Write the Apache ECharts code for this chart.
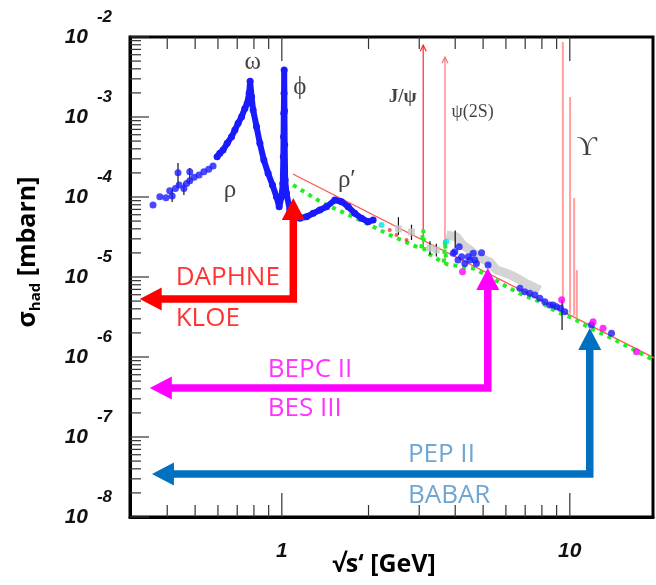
<!DOCTYPE html>
<html><head><meta charset="utf-8">
<script src="https://cdn.jsdelivr.net/npm/echarts@6/dist/echarts.min.js"></script>
<style>html,body{margin:0;padding:0;background:#fff}#c{width:656px;height:585px}</style>
</head><body><div id="c"></div>
<script>
// ---- axis ranges / ticks ----
const X_MIN = 0.297, X_MAX = 19.45, Y_MIN = 1e-8, Y_MAX = 1e-2;
const xMajorTicks = [1, 10];
const xMinorTicks = [0.4, 0.5, 0.6, 0.7, 0.8, 0.9, 2, 3, 4, 5, 6, 7, 8, 9];
const yMajorTicks = [1e-8, 1e-7, 1e-6, 1e-5, 1e-4, 1e-3, 1e-2];
const yMinorTicks = [];
[-8, -7, -6, -5, -4, -3].forEach(d => { [2,3,4,5,6,7,8,9].forEach(m => yMinorTicks.push(m * Math.pow(10, d))); });

// ---- data (sqrt(s) [GeV], sigma_had [mbarn]) ----
const blueLow = [[0.357,7.94e-5],[0.377,1.01e-4],[0.396,9.8e-5],[0.408,1.2e-4],[0.416,1.03e-4],[0.427,1.28e-4],[0.436,2.01e-4],[0.440,1.41e-4],[0.457,1.28e-4],[0.467,1.48e-4],[0.479,2.07e-4],[0.479,1.6e-4],[0.496,1.76e-4],[0.516,1.88e-4],[0.536,2.07e-4],[0.557,2.22e-4],[0.577,2.44e-4]];
const blueDense = [[0.596,3.19e-4],[0.609,3.52e-4],[0.625,3.87e-4],[0.646,4.69e-4],[0.669,5.67e-4],[0.687,6.88e-4],[0.705,8.34e-4],[0.725,1.01e-3],[0.744,1.28e-3],[0.758,1.48e-3],[0.770,1.98e-3],[0.776,2.8e-3],[0.785,1.79e-3],[0.795,1.22e-3],[0.817,7.56e-4],[0.839,4.69e-4],[0.866,2.9e-4],[0.896,1.98e-4],[0.928,1.41e-4],[0.958,1.01e-4],[0.979,7.56e-5],[0.998,1.01e-4],[1.008,1.48e-4],[1.012,3.19e-4],[1.014,5.67e-4],[1.016,1.11e-3],[1.018,1.98e-3],[1.019,3.87e-3],[1.021,1.2e-3],[1.023,4.5e-4],[1.027,1.63e-4],[1.038,1.11e-4],[1.066,6.88e-5],[1.155,5.42e-5],[1.218,5.67e-5],[1.285,6.25e-5],[1.355,6.88e-5],[1.43,7.56e-5],[1.528,9.17e-5],[1.612,8.73e-5],[1.699,7.56e-5],[1.792,6.25e-5],[1.891,5.42e-5],[1.994,4.91e-5],[2.075,5.16e-5]];
const blueHigh = [[3.94,1.98e-5],[3.99,2.07e-5],[4.09,1.63e-5],[4.13,2.39e-5],[4.21,1.79e-5],[4.32,1.48e-5],[4.44,1.79e-5],[4.50,1.63e-5],[4.62,1.98e-5],[4.68,1.63e-5],[4.74,1.48e-5],[4.94,2.01e-5],[5.20,1.41e-5],[6.71,7.22e-6],[6.98,6.55e-6],[7.26,6.25e-6],[7.56,5.96e-6],[7.87,5.42e-6],[8.19,4.91e-6],[8.52,4.47e-6],[8.75,4.47e-6],[8.99,4.25e-6],[9.28,4.06e-6],[9.61,3.68e-6],[11.89,2.51e-6],[13.96,1.98e-6]];
const redFit = [[1.092,1.94e-4],[19.7,9.7e-7]];
const greenCurve = [[1.094,1.41e-4],[1.391,8.34e-5],[1.866,5.16e-5],[2.371,3.35e-5],[3.05,2.25e-5],[3.097,3.9e-5],[3.13,2.1e-5],[3.65,1.5e-5],[3.686,2.9e-5],[3.72,1.45e-5],[4.62,1.28e-5],[5.28,1.01e-5],[6.03,7.56e-6],[6.88,5.96e-6],[7.87,4.91e-6],[8.99,3.68e-6],[10.27,3.05e-6],[11.73,2.3e-6],[13.41,1.85e-6],[15.31,1.45e-6],[19.46,9.2e-7]];
const grayBand = [[3.73,3.35e-5],[4.04,3.19e-5],[4.25,2.51e-5],[4.50,2.18e-5],[4.87,1.73e-5],[5.28,1.54e-5],[5.57,1.22e-5],[6.03,1.11e-5],[6.34,1.03e-5],[6.71,9.17e-6],[7.09,8.18e-6],[7.46,7.56e-6],[7.87,6.88e-6]];
const grayPoints = [[2.54,4.0e-5],[2.82,3.65e-5],[3.27,2.3e-5],[3.44,2.18e-5]];
const redPoints = [[2.37,3.87e-5],[2.50,3.35e-5],[2.71,2.9e-5]];
const magentaPoints = [[4.24,1.16e-5],[9.37,5.2e-6],[12.05,2.76e-6],[13.05,2.28e-6],[17.04,1.16e-6]];
const cyanPoints = [[2.22,4.47e-5],[3.73,2.76e-5]];
// error bars: [x, low, high]
const errorBars = [[0.436,1.33e-4,2.66e-4],[0.479,1.54e-4,2.3e-4],[0.416,8.66e-5,1.22e-4],[0.457,1.06e-4,1.5e-4],[2.54,3.35e-5,5.6e-5],[2.82,2.9e-5,4.5e-5],[3.27,1.9e-5,2.8e-5],[3.44,1.8e-5,2.6e-5],[4.0,2.3e-5,3.8e-5],[9.40,2.18e-6,5.16e-6]];
// resonances: [mass, bottom, top]
const resMass = [3.097, 3.686, 9.46, 10.023, 10.355, 10.58];
const resLow  = [2.2e-5, 1.4e-5, 3.9e-6, 3.5e-6, 3.3e-6, 3.1e-6];
const resHigh = [7.9e-3, 5.6e-3, 8.66e-3, 1.78e-3, 9.7e-5, 1.22e-5];
// arrows: corner (x,y), tip of vertical branch (y), tip of horizontal branch (x)
const arrowCornerX = [1.096, 5.19, 11.73];
const arrowCornerY = [5.31e-6, 4.10e-7, 3.45e-8];
const arrowTipY    = [9.7e-5, 1.296e-5, 2.30e-6];
const arrowTipX    = [0.321, 0.348, 0.354];
// labels
const greekText = ['ω', 'ϕ', 'ρ', 'ρ′', 'J/ψ', 'ψ(2S)', 'ϒ'];
const greekX    = [0.793, 1.155, 0.660, 1.682, 2.63, 4.60, 11.46];
const greekY    = [4.87e-3, 2.37e-3, 1.22e-4, 1.63e-4, 1.78e-3, 1.15e-3, 4.1e-4];
const machineText = ['DAPHNE', 'KLOE', 'BEPC II', 'BES III', 'PEP II', 'BABAR'];
const machineX    = [0.428, 0.428, 0.894, 0.894, 2.74, 2.74];
const machineY    = [9.7e-6, 2.99e-6, 6.88e-7, 2.24e-7, 5.96e-8, 1.83e-8];

// ---- styles ----
const arrowColors = ['#ff0000', '#ff00ff', '#0070c0'];
const machineColors = ['#ff0000', '#ff0000', '#ff00ff', '#ff00ff', '#4a8fc8', '#4a8fc8'];
const greekSizes = [25, 25, 25, 25, 19, 18, 28];
const greekWeights = ['normal','normal','normal','normal','bold','normal','normal'];

function xTickSeries(vals, len) {
  return { type: 'custom', coordinateSystem: 'cartesian2d', silent: true, clip: false, z: 10,
    data: vals.map(v => [v, Y_MIN]),
    renderItem: (p, api) => {
      const v = api.value(0);
      const b = api.coord([v, Y_MIN]), t = api.coord([v, Y_MAX]);
      return { type: 'group', children: [
        { type: 'line', shape: { x1: b[0], y1: b[1], x2: b[0], y2: b[1] - len }, style: { stroke: '#333', lineWidth: 1.2 } },
        { type: 'line', shape: { x1: t[0], y1: t[1], x2: t[0], y2: t[1] + len }, style: { stroke: '#333', lineWidth: 1.2 } }
      ]};
    }};
}
function yTickSeries(vals, len) {
  return { type: 'custom', coordinateSystem: 'cartesian2d', silent: true, clip: false, z: 10,
    data: vals.map(v => [X_MIN, v]),
    renderItem: (p, api) => {
      const c = api.coord([X_MIN, api.value(1)]);
      return { type: 'line', shape: { x1: c[0], y1: c[1], x2: c[0] + len, y2: c[1] }, style: { stroke: '#333', lineWidth: 1.2 } };
    }};
}
function scatter(data, color, size, symbol, z) {
  return { type: 'scatter', data: data, symbol: symbol || 'circle', symbolSize: size, itemStyle: { color: color }, z: z || 3, silent: true };
}

const option = {
  animation: false,
  backgroundColor: '#fff',
  grid: { left: 130, top: 37, width: 523, height: 480, show: true, borderColor: '#000', borderWidth: 3, backgroundColor: 'transparent' },
  xAxis: {
    type: 'log', logBase: 10, min: X_MIN, max: X_MAX,
    axisLine: { show: true, lineStyle: { color: '#000', width: 3 } },
    axisTick: { show: false }, splitLine: { show: false }, minorTick: { show: false },
    axisLabel: {
      margin: 24, fontFamily: 'Liberation Sans', fontWeight: 'bold', fontStyle: 'italic', fontSize: 21, color: '#111',
      formatter: v => { const l = Math.log10(v); return Math.abs(l - Math.round(l)) < 1e-6 ? String(Math.round(v)) : ''; }
    }
  },
  yAxis: {
    type: 'log', logBase: 10, min: Y_MIN, max: Y_MAX, splitNumber: 6,
    axisLine: { show: true, lineStyle: { color: '#000', width: 3 } },
    axisTick: { show: false }, splitLine: { show: false }, minorTick: { show: false },
    axisLabel: {
      margin: 18, padding: [0, 0, 20, 0], align: 'right',
      formatter: v => { const e = Math.round(Math.log10(v)); return '{e|' + e + '}\n{b|10}'; },
      rich: {
        e: { fontFamily: 'Liberation Sans', fontWeight: 'bold', fontStyle: 'italic', fontSize: 17, lineHeight: 20, color: '#111' },
        b: { fontFamily: 'Liberation Sans', fontWeight: 'bold', fontStyle: 'italic', fontSize: 21, lineHeight: 20, color: '#111', padding: [0, 24, 0, 0] }
      }
    }
  },
  graphic: [
    { type: 'text', x: 28, y: 252, rotation: Math.PI / 2,
      style: { text: '{a|σ}{s|had}{a| [mbarn]}', align: 'center', verticalAlign: 'middle',
        rich: {
          a: { fontFamily: 'Open Sans', fontWeight: 'bold', fontSize: 25, lineHeight: 30, fill: '#000' },
          s: { fontFamily: 'Open Sans', fontWeight: 'bold', fontSize: 15, lineHeight: 15, verticalAlign: 'bottom', fill: '#000' }
        } } },
    { type: 'text', x: 384, y: 565,
      style: { text: '√s‘ [GeV]', fontFamily: 'Open Sans', fontWeight: 'bold', fontSize: 25, fill: '#000', align: 'center', verticalAlign: 'middle' } }
  ],
  series: [
    xTickSeries(xMajorTicks, 24), xTickSeries(xMinorTicks, 12),
    yTickSeries(yMajorTicks, 19), yTickSeries(yMinorTicks, 11),
    { type: 'line', data: grayBand, showSymbol: false, lineStyle: { color: '#d4d4d4', width: 9 }, z: 1, silent: true },
    // resonance lines
    { type: 'custom', coordinateSystem: 'cartesian2d', silent: true, z: 2,
      data: resMass.map((m, i) => [m, resLow[i], resHigh[i]]),
      renderItem: (p, api) => {
        const i = p.dataIndex;
        const b = api.coord([api.value(0), api.value(1)]), t = api.coord([api.value(0), api.value(2)]);
        const col = i === 0 ? '#ff2a2a' : (i === 1 ? '#ff7070' : 'rgba(255,80,80,0.55)');
        const ch = [{ type: 'line', shape: { x1: b[0], y1: b[1], x2: t[0], y2: t[1] }, style: { stroke: col, lineWidth: i < 2 ? 1.2 : 2 } }];
        if (i < 2) ch.push({ type: 'polyline', shape: { points: [[t[0] - 3, t[1] + 6], [t[0], t[1]], [t[0] + 3, t[1] + 6]] }, style: { stroke: col, lineWidth: 1.2, fill: null } });
        return { type: 'group', children: ch };
      } },
    { type: 'line', data: redFit, showSymbol: false, lineStyle: { color: '#ff5555', width: 1.3 }, z: 4, silent: true },
    { type: 'line', data: greenCurve, showSymbol: false, lineStyle: { color: '#22ee22', width: 4, type: [4, 5] }, z: 4, silent: true },
    // error bars
    { type: 'custom', coordinateSystem: 'cartesian2d', silent: true, z: 5,
      data: errorBars,
      renderItem: (p, api) => {
        const a = api.coord([api.value(0), api.value(1)]), b = api.coord([api.value(0), api.value(2)]);
        return { type: 'line', shape: { x1: a[0], y1: a[1], x2: b[0], y2: b[1] }, style: { stroke: '#111', lineWidth: 1.2 } };
      } },
    scatter(grayPoints, '#c8c8c8', 7, 'rect', 5),
    scatter(redPoints, '#ff3030', 4, 'circle', 5),
    scatter(cyanPoints, '#00e0f0', 6, 'circle', 5),
    { type: 'line', data: blueDense, symbol: 'circle', symbolSize: 7, showSymbol: true, itemStyle: { color: '#1a1aff' }, lineStyle: { color: '#1a1aff', width: 6 }, z: 6, silent: true },
    scatter(blueLow, '#1a1aff', 7, 'circle', 6),
    scatter(blueHigh, '#1a1aff', 7, 'circle', 6),
    scatter(magentaPoints, '#ff00ff', 7, 'circle', 7),
    // arrows
    { type: 'custom', coordinateSystem: 'cartesian2d', silent: true, clip: false, z: 20,
      data: arrowCornerX.map((x, i) => [x, arrowCornerY[i], arrowTipY[i], arrowTipX[i]]),
      renderItem: (p, api) => {
        const col = arrowColors[p.dataIndex];
        const c = api.coord([api.value(0), api.value(1)]);
        const tu = api.coord([api.value(0), api.value(2)]);
        const tl = api.coord([api.value(3), api.value(1)]);
        const H = 22, W = 11.5;
        return { type: 'group', children: [
          { type: 'polyline', shape: { points: [[c[0], tu[1] + H - 1], [c[0], c[1]], [tl[0] + H - 1, c[1]]] }, style: { stroke: col, lineWidth: 7.5, lineJoin: 'miter', fill: null } },
          { type: 'polygon', shape: { points: [[tu[0], tu[1]], [tu[0] - W, tu[1] + H], [tu[0] + W, tu[1] + H]] }, style: { fill: col } },
          { type: 'polygon', shape: { points: [[tl[0], tl[1]], [tl[0] + H, tl[1] - W], [tl[0] + H, tl[1] + W]] }, style: { fill: col } }
        ]};
      } },
    // greek labels
    { type: 'scatter', symbolSize: 0, silent: true, z: 21,
      data: greekText.map((t, i) => ({ value: [greekX[i], greekY[i]], name: t,
        label: { fontSize: greekSizes[i], fontWeight: greekWeights[i] } })),
      label: { show: true, position: 'inside', formatter: '{b}', fontFamily: 'Liberation Serif', color: '#111' } },
    // machine labels
    { type: 'scatter', symbolSize: 0, silent: true, z: 21,
      data: machineText.map((t, i) => ({ value: [machineX[i], machineY[i]], name: t, label: { color: machineColors[i] } })),
      label: { show: true, position: 'right', distance: 0, formatter: '{b}', fontFamily: 'Open Sans', fontSize: 26 } }
  ]
};
const chart = echarts.init(document.getElementById('c'), null, { renderer: 'canvas' });
chart.setOption(option);
</script></body></html>
